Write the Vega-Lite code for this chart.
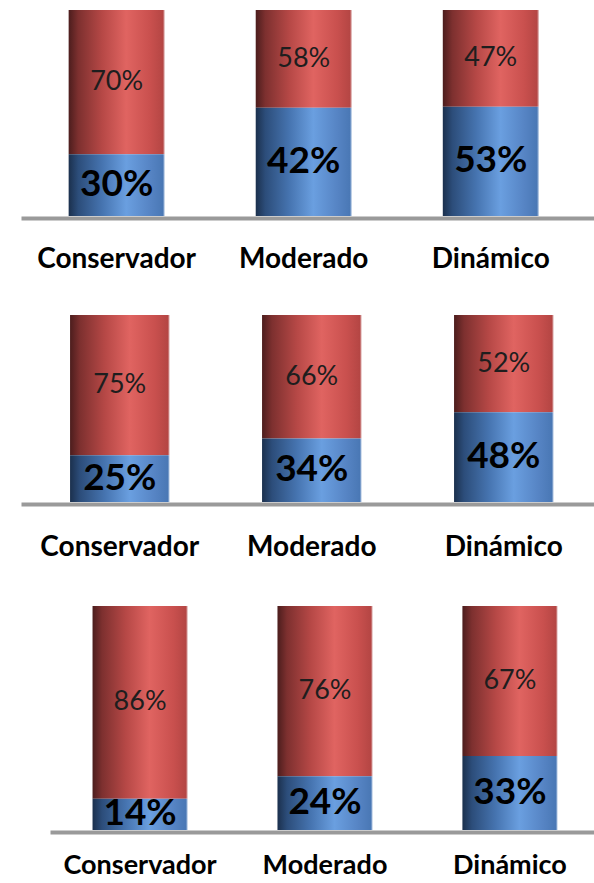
{
  "$schema": "https://vega.github.io/schema/vega-lite/v6.json",
  "padding": {"left": 18, "top": 10, "right": 0, "bottom": 0},
  "autosize": {"type": "pad"},
  "background": "white",
  "config": {
    "view": {"stroke": null},
    "font": "Lato",
    "axisX": {
      "title": null,
      "ticks": false,
      "domainColor": "#9a9a9a",
      "domainWidth": 4,
      "offset": 2,
      "labelFont": "Lato",
      "labelFontSize": 28,
      "labelFontWeight": "bold",
      "labelColor": "#000000",
      "labelPadding": 29,
      "labelAngle": 0,
      "labelOverlap": false,
      "labelLimit": 400
    }
  },
  "datasets": {
    "p1": [
      {"cat": "Conservador", "series": "A", "pct": 30, "label": "30%"},
      {"cat": "Conservador", "series": "B", "pct": 70, "label": "70%"},
      {"cat": "Moderado", "series": "A", "pct": 52.5, "label": "42%"},
      {"cat": "Moderado", "series": "B", "pct": 47.5, "label": "58%"},
      {"cat": "Dinámico", "series": "A", "pct": 53, "label": "53%"},
      {"cat": "Dinámico", "series": "B", "pct": 47, "label": "47%"}
    ],
    "p2": [
      {"cat": "Conservador", "series": "A", "pct": 25, "label": "25%"},
      {"cat": "Conservador", "series": "B", "pct": 75, "label": "75%"},
      {"cat": "Moderado", "series": "A", "pct": 34, "label": "34%"},
      {"cat": "Moderado", "series": "B", "pct": 66, "label": "66%"},
      {"cat": "Dinámico", "series": "A", "pct": 48, "label": "48%"},
      {"cat": "Dinámico", "series": "B", "pct": 52, "label": "52%"}
    ],
    "p3": [
      {"cat": "Conservador", "series": "A", "pct": 14, "label": "14%"},
      {"cat": "Conservador", "series": "B", "pct": 86, "label": "86%"},
      {"cat": "Moderado", "series": "A", "pct": 24, "label": "24%"},
      {"cat": "Moderado", "series": "B", "pct": 76, "label": "76%"},
      {"cat": "Dinámico", "series": "A", "pct": 33, "label": "33%"},
      {"cat": "Dinámico", "series": "B", "pct": 67, "label": "67%"}
    ]
  },
  "spacing": 42,
  "vconcat": [
    {
      "width": 576,
      "height": 206,
      "data": {"name": "p1"},
      "transform": [
        {"stack": "pct", "groupby": ["cat"], "sort": [{"field": "series", "order": "ascending"}], "as": ["y0", "y1"]}
      ],
      "encoding": {
        "x": {"field": "cat", "type": "nominal", "sort": ["Conservador", "Moderado", "Dinámico"],
              "scale": {"paddingInner": 0.487, "paddingOuter": 0.283, "align": 0.45},
              "axis": {"labelPadding": 27}}
      },
      "layer": [
        {
          "transform": [{"filter": "datum.series === 'B'"}],
          "mark": {"type": "bar", "color": {"gradient": "linear", "x1": 0, "y1": 0, "x2": 1, "y2": 0,
            "stops": [{"offset": 0, "color": "#4c1d1d"}, {"offset": 0.1, "color": "#7d302f"}, {"offset": 0.35, "color": "#b64846"}, {"offset": 0.6, "color": "#e06461"}, {"offset": 0.85, "color": "#c9504e"}, {"offset": 0.98, "color": "#b54644"}, {"offset": 1, "color": "#d8a4a4"}]}},
          "encoding": {
            "y": {"field": "y0", "type": "quantitative", "scale": {"domain": [0, 100]}, "axis": null},
            "y2": {"field": "y1"}
          }
        },
        {
          "transform": [{"filter": "datum.series === 'A'"}],
          "mark": {"type": "bar", "color": {"gradient": "linear", "x1": 0, "y1": 0, "x2": 1, "y2": 0,
            "stops": [{"offset": 0, "color": "#1b304d"}, {"offset": 0.1, "color": "#2c4d7a"}, {"offset": 0.35, "color": "#4674b0"}, {"offset": 0.6, "color": "#6a9fe0"}, {"offset": 0.85, "color": "#5684c4"}, {"offset": 0.98, "color": "#4a78b5"}, {"offset": 1, "color": "#a9c0de"}]}},
          "encoding": {
            "y": {"field": "y0", "type": "quantitative", "scale": {"domain": [0, 100]}, "axis": null},
            "y2": {"field": "y1"}
          }
        },
        {
          "transform": [{"filter": "datum.series === 'B'"}, {"fold": ["y0", "y1"], "as": ["edge", "v"]}],
          "mark": {"type": "text", "font": "Lato", "fontSize": 27, "color": "#1e1e1e", "baseline": "middle"},
          "encoding": {
            "y": {"aggregate": "mean", "field": "v", "type": "quantitative", "scale": {"domain": [0, 100]}, "axis": null},
            "text": {"field": "label", "type": "nominal"}
          }
        },
        {
          "transform": [{"filter": "datum.series === 'A'"}, {"fold": ["y0", "y1"], "as": ["edge", "v"]}],
          "mark": {"type": "text", "font": "Lato", "fontSize": 37, "fontWeight": "bold", "color": "#000000", "baseline": "middle"},
          "encoding": {
            "y": {"aggregate": "mean", "field": "v", "type": "quantitative", "scale": {"domain": [0, 100]}, "axis": null},
            "text": {"field": "label", "type": "nominal"}
          }
        }
      ]
    },
    {
      "width": 576,
      "height": 187,
      "data": {"name": "p2"},
      "transform": [
        {"stack": "pct", "groupby": ["cat"], "sort": [{"field": "series", "order": "ascending"}], "as": ["y0", "y1"]}
      ],
      "encoding": {
        "x": {"field": "cat", "type": "nominal", "sort": ["Conservador", "Moderado", "Dinámico"],
              "scale": {"paddingInner": 0.482, "paddingOuter": 0.241, "align": 0.53}}
      },
      "layer": [
        {
          "transform": [{"filter": "datum.series === 'B'"}],
          "mark": {"type": "bar", "color": {"gradient": "linear", "x1": 0, "y1": 0, "x2": 1, "y2": 0,
            "stops": [{"offset": 0, "color": "#4c1d1d"}, {"offset": 0.1, "color": "#7d302f"}, {"offset": 0.35, "color": "#b64846"}, {"offset": 0.6, "color": "#e06461"}, {"offset": 0.85, "color": "#c9504e"}, {"offset": 0.98, "color": "#b54644"}, {"offset": 1, "color": "#d8a4a4"}]}},
          "encoding": {
            "y": {"field": "y0", "type": "quantitative", "scale": {"domain": [0, 100]}, "axis": null},
            "y2": {"field": "y1"}
          }
        },
        {
          "transform": [{"filter": "datum.series === 'A'"}],
          "mark": {"type": "bar", "color": {"gradient": "linear", "x1": 0, "y1": 0, "x2": 1, "y2": 0,
            "stops": [{"offset": 0, "color": "#1b304d"}, {"offset": 0.1, "color": "#2c4d7a"}, {"offset": 0.35, "color": "#4674b0"}, {"offset": 0.6, "color": "#6a9fe0"}, {"offset": 0.85, "color": "#5684c4"}, {"offset": 0.98, "color": "#4a78b5"}, {"offset": 1, "color": "#a9c0de"}]}},
          "encoding": {
            "y": {"field": "y0", "type": "quantitative", "scale": {"domain": [0, 100]}, "axis": null},
            "y2": {"field": "y1"}
          }
        },
        {
          "transform": [{"filter": "datum.series === 'B'"}, {"fold": ["y0", "y1"], "as": ["edge", "v"]}],
          "mark": {"type": "text", "font": "Lato", "fontSize": 27, "color": "#1e1e1e", "baseline": "middle"},
          "encoding": {
            "y": {"aggregate": "mean", "field": "v", "type": "quantitative", "scale": {"domain": [0, 100]}, "axis": null},
            "text": {"field": "label", "type": "nominal"}
          }
        },
        {
          "transform": [{"filter": "datum.series === 'A'"}, {"fold": ["y0", "y1"], "as": ["edge", "v"]}],
          "mark": {"type": "text", "font": "Lato", "fontSize": 37, "fontWeight": "bold", "color": "#000000", "baseline": "middle"},
          "encoding": {
            "y": {"aggregate": "mean", "field": "v", "type": "quantitative", "scale": {"domain": [0, 100]}, "axis": null},
            "text": {"field": "label", "type": "nominal"}
          }
        }
      ]
    },
    {
      "spacing": 25,
      "hconcat": [
        {
          "width": 1,
          "height": 1,
          "data": {"values": [{"k": 0}]},
          "mark": {"type": "point", "opacity": 0}
        },
        {
          "width": 550,
          "height": 224,
          "data": {"name": "p3"},
          "transform": [
            {"stack": "pct", "groupby": ["cat"], "sort": [{"field": "series", "order": "ascending"}], "as": ["y0", "y1"]}
          ],
          "encoding": {
            "x": {"field": "cat", "type": "nominal", "sort": ["Conservador", "Moderado", "Dinámico"],
                  "scale": {"paddingInner": 0.486, "paddingOuter": 0.23, "align": 0.5},
                  "axis": {"labelPadding": 20, "labelFontSize": 27}}
          },
          "layer": [
            {
              "transform": [{"filter": "datum.series === 'B'"}],
              "mark": {"type": "bar", "color": {"gradient": "linear", "x1": 0, "y1": 0, "x2": 1, "y2": 0,
                "stops": [{"offset": 0, "color": "#4c1d1d"}, {"offset": 0.1, "color": "#7d302f"}, {"offset": 0.35, "color": "#b64846"}, {"offset": 0.6, "color": "#e06461"}, {"offset": 0.85, "color": "#c9504e"}, {"offset": 0.98, "color": "#b54644"}, {"offset": 1, "color": "#d8a4a4"}]}},
              "encoding": {
                "y": {"field": "y0", "type": "quantitative", "scale": {"domain": [0, 100]}, "axis": null},
                "y2": {"field": "y1"}
              }
            },
            {
              "transform": [{"filter": "datum.series === 'A'"}],
              "mark": {"type": "bar", "color": {"gradient": "linear", "x1": 0, "y1": 0, "x2": 1, "y2": 0,
                "stops": [{"offset": 0, "color": "#1b304d"}, {"offset": 0.1, "color": "#2c4d7a"}, {"offset": 0.35, "color": "#4674b0"}, {"offset": 0.6, "color": "#6a9fe0"}, {"offset": 0.85, "color": "#5684c4"}, {"offset": 0.98, "color": "#4a78b5"}, {"offset": 1, "color": "#a9c0de"}]}},
              "encoding": {
                "y": {"field": "y0", "type": "quantitative", "scale": {"domain": [0, 100]}, "axis": null},
                "y2": {"field": "y1"}
              }
            },
            {
              "transform": [{"filter": "datum.series === 'B'"}, {"fold": ["y0", "y1"], "as": ["edge", "v"]}],
              "mark": {"type": "text", "font": "Lato", "fontSize": 27, "color": "#1e1e1e", "baseline": "middle"},
              "encoding": {
                "y": {"aggregate": "mean", "field": "v", "type": "quantitative", "scale": {"domain": [0, 100]}, "axis": null},
                "text": {"field": "label", "type": "nominal"}
              }
            },
            {
              "transform": [{"filter": "datum.series === 'A'"}, {"fold": ["y0", "y1"], "as": ["edge", "v"]}],
              "mark": {"type": "text", "font": "Lato", "fontSize": 37, "fontWeight": "bold", "color": "#000000", "baseline": "middle"},
              "encoding": {
                "y": {"aggregate": "mean", "field": "v", "type": "quantitative", "scale": {"domain": [0, 100]}, "axis": null},
                "text": {"field": "label", "type": "nominal"}
              }
            }
          ]
        }
      ]
    }
  ]
}
